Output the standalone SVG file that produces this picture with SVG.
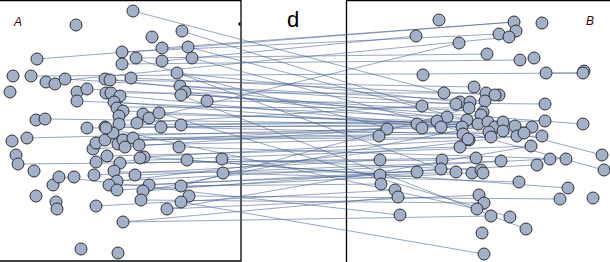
<svg xmlns="http://www.w3.org/2000/svg" width="610" height="262" viewBox="0 0 610 262">
<style>
circle{fill:#a2b0c8;stroke:#2c2f36;stroke-width:1}
#links line{stroke:#44618f;stroke-width:0.7;stroke-opacity:0.8}
.box{fill:none;stroke:#000;stroke-width:1.3}
.lab{font-family:"Liberation Sans",Arial,sans-serif;font-style:italic;font-size:12px;fill:#4a0000}
</style>
<rect width="610" height="262" fill="#fff"/>
<g id="frames">
<path class="box" d="M0,0.6H241V261H0"/>
<path class="box" d="M346.5,262V0.6H610"/>
<rect x="238.5" y="22.5" width="2" height="3" fill="#000"/>
</g>
<text x="293" y="27" font-family="Liberation Sans,Arial,sans-serif" font-size="22" text-anchor="middle" fill="#000">d</text>
<text class="lab" x="14" y="26">A</text>
<text class="lab" x="586" y="25">B</text>
<g id="links">
<line x1="37" y1="59" x2="514" y2="22"/>
<line x1="162" y1="48" x2="514" y2="22"/>
<line x1="149" y1="118" x2="459" y2="43"/>
<line x1="133" y1="11" x2="444" y2="93"/>
<line x1="182" y1="31" x2="422" y2="106"/>
<line x1="122" y1="64" x2="520" y2="60"/>
<line x1="31" y1="76" x2="583" y2="73"/>
<line x1="188" y1="47" x2="602" y2="155"/>
<line x1="192" y1="58" x2="604" y2="170"/>
<line x1="180" y1="95" x2="526" y2="229"/>
<line x1="159" y1="113" x2="510" y2="217"/>
<line x1="189" y1="196" x2="560" y2="199"/>
<line x1="141" y1="200" x2="484" y2="203"/>
<line x1="181" y1="202" x2="484" y2="254"/>
<line x1="18" y1="164" x2="442" y2="160"/>
<line x1="45" y1="119" x2="417" y2="124"/>
<line x1="27" y1="138" x2="462" y2="127"/>
<line x1="162" y1="61" x2="416" y2="36"/>
<line x1="122" y1="52" x2="499" y2="34"/>
<line x1="46" y1="82" x2="509" y2="37"/>
<line x1="87" y1="89" x2="483" y2="112"/>
<line x1="77" y1="101" x2="447" y2="117"/>
<line x1="106" y1="93" x2="486" y2="93"/>
<line x1="110" y1="80" x2="474" y2="87"/>
<line x1="131" y1="78" x2="499" y2="95"/>
<line x1="177" y1="73" x2="460" y2="102"/>
<line x1="185" y1="92" x2="495" y2="127"/>
<line x1="207" y1="101" x2="545" y2="104"/>
<line x1="114" y1="102" x2="441" y2="127"/>
<line x1="117" y1="107" x2="469" y2="108"/>
<line x1="123" y1="111" x2="532" y2="127"/>
<line x1="143" y1="114" x2="488" y2="122"/>
<line x1="137" y1="123" x2="422" y2="106"/>
<line x1="161" y1="127" x2="463" y2="134"/>
<line x1="181" y1="125" x2="545" y2="121"/>
<line x1="105" y1="127" x2="515" y2="126"/>
<line x1="119" y1="125" x2="437" y2="121"/>
<line x1="87" y1="128" x2="478" y2="124"/>
<line x1="96" y1="143" x2="503" y2="122"/>
<line x1="105" y1="140" x2="379" y2="136"/>
<line x1="113" y1="134" x2="489" y2="132"/>
<line x1="123" y1="140" x2="491" y2="137"/>
<line x1="133" y1="138" x2="524" y2="133"/>
<line x1="139" y1="145" x2="542" y2="136"/>
<line x1="144" y1="157" x2="469" y2="140"/>
<line x1="93" y1="149" x2="387" y2="129"/>
<line x1="107" y1="156" x2="460" y2="147"/>
<line x1="96" y1="162" x2="531" y2="146"/>
<line x1="120" y1="163" x2="476" y2="158"/>
<line x1="114" y1="172" x2="417" y2="172"/>
<line x1="94" y1="175" x2="380" y2="160"/>
<line x1="135" y1="175" x2="501" y2="161"/>
<line x1="117" y1="181" x2="550" y2="159"/>
<line x1="109" y1="186" x2="456" y2="172"/>
<line x1="117" y1="190" x2="472" y2="173"/>
<line x1="149" y1="185" x2="537" y2="165"/>
<line x1="143" y1="191" x2="441" y2="169"/>
<line x1="179" y1="147" x2="566" y2="159"/>
<line x1="187" y1="160" x2="380" y2="175"/>
<line x1="222" y1="159" x2="481" y2="170"/>
<line x1="223" y1="173" x2="519" y2="182"/>
<line x1="181" y1="186" x2="381" y2="184"/>
<line x1="96" y1="206" x2="395" y2="190"/>
<line x1="167" y1="209" x2="479" y2="195"/>
<line x1="123" y1="222" x2="491" y2="216"/>
<line x1="123" y1="222" x2="398" y2="197"/>
<line x1="181" y1="94" x2="583" y2="124"/>
<line x1="180" y1="86" x2="485" y2="101"/>
<line x1="65" y1="79" x2="456" y2="104"/>
<line x1="105" y1="79" x2="467" y2="120"/>
<line x1="120" y1="96" x2="503" y2="131"/>
<line x1="178" y1="73" x2="388" y2="128"/>
<line x1="136" y1="58" x2="487" y2="54"/>
<line x1="59" y1="177" x2="400" y2="215"/>
<line x1="106" y1="128" x2="477" y2="209"/>
<line x1="143" y1="157" x2="568" y2="188"/>
<line x1="546" y1="73" x2="583" y2="73"/>
<line x1="143" y1="191" x2="503" y2="122"/>
<line x1="117" y1="181" x2="517" y2="136"/>
<line x1="167" y1="209" x2="531" y2="146"/>
<line x1="136" y1="58" x2="441" y2="169"/>
<line x1="181" y1="186" x2="469" y2="108"/>
</g>
<g id="A-nodes">
<g id="a1"><circle cx="133" cy="11" r="6"/></g>
<g id="a2"><circle cx="76" cy="25" r="6"/></g>
<g id="a3"><circle cx="182" cy="31" r="6"/></g>
<g id="a4"><circle cx="152" cy="37" r="6"/></g>
<g id="a5"><circle cx="162" cy="48" r="6"/></g>
<g id="a6"><circle cx="188" cy="47" r="6"/></g>
<g id="a7"><circle cx="37" cy="59" r="6"/></g>
<g id="a8"><circle cx="122" cy="52" r="6"/></g>
<g id="a9"><circle cx="136" cy="58" r="6"/></g>
<g id="a10"><circle cx="192" cy="58" r="6"/></g>
<g id="a11"><circle cx="122" cy="64" r="6"/></g>
<g id="a12"><circle cx="162" cy="61" r="6"/></g>
<g id="a13"><circle cx="13" cy="76" r="6"/></g>
<g id="a14"><circle cx="31" cy="76" r="6"/></g>
<g id="a15"><circle cx="46" cy="82" r="6"/></g>
<g id="a16"><circle cx="55" cy="84" r="6"/></g>
<g id="a17"><circle cx="65" cy="79" r="6"/></g>
<g id="a18"><circle cx="10" cy="92" r="6"/></g>
<g id="a19"><circle cx="77" cy="92" r="6"/></g>
<g id="a20"><circle cx="87" cy="89" r="6"/></g>
<g id="a21"><circle cx="77" cy="101" r="6"/></g>
<g id="a22"><circle cx="105" cy="79" r="6"/></g>
<g id="a23"><circle cx="110" cy="80" r="6"/></g>
<g id="a24"><circle cx="131" cy="78" r="6"/></g>
<g id="a25"><circle cx="177" cy="73" r="6"/></g>
<g id="a26"><circle cx="180" cy="86" r="6"/></g>
<g id="a27"><circle cx="185" cy="92" r="6"/></g>
<g id="a28"><circle cx="181" cy="95" r="6"/></g>
<g id="a29"><circle cx="207" cy="101" r="6"/></g>
<g id="a30"><circle cx="106" cy="93" r="6"/></g>
<g id="a31"><circle cx="111" cy="93" r="6"/></g>
<g id="a32"><circle cx="120" cy="96" r="6"/></g>
<g id="a33"><circle cx="114" cy="102" r="6"/></g>
<g id="a34"><circle cx="117" cy="108" r="6"/></g>
<g id="a35"><circle cx="123" cy="111" r="6"/></g>
<g id="a36"><circle cx="119" cy="116" r="6"/></g>
<g id="a37"><circle cx="143" cy="114" r="6"/></g>
<g id="a38"><circle cx="149" cy="118" r="6"/></g>
<g id="a39"><circle cx="159" cy="113" r="6"/></g>
<g id="a40"><circle cx="36" cy="120" r="6"/></g>
<g id="a41"><circle cx="45" cy="119" r="6"/></g>
<g id="a42"><circle cx="87" cy="128" r="6"/></g>
<g id="a43"><circle cx="105" cy="127" r="6"/></g>
<g id="a44"><circle cx="119" cy="124" r="6"/></g>
<g id="a45"><circle cx="137" cy="123" r="6"/></g>
<g id="a46"><circle cx="161" cy="127" r="6"/></g>
<g id="a47"><circle cx="181" cy="125" r="6"/></g>
<g id="a48"><circle cx="12" cy="141" r="6"/></g>
<g id="a49"><circle cx="27" cy="138" r="6"/></g>
<g id="a50"><circle cx="16" cy="155" r="6"/></g>
<g id="a51"><circle cx="18" cy="164" r="6"/></g>
<g id="a52"><circle cx="34" cy="171" r="6"/></g>
<g id="a53"><circle cx="53" cy="185" r="6"/></g>
<g id="a54"><circle cx="59" cy="177" r="6"/></g>
<g id="a55"><circle cx="74" cy="177" r="6"/></g>
<g id="a56"><circle cx="36" cy="196" r="6"/></g>
<g id="a57"><circle cx="56" cy="202" r="6"/></g>
<g id="a58"><circle cx="57" cy="209" r="6"/></g>
<g id="a59"><circle cx="94" cy="175" r="6"/></g>
<g id="a60"><circle cx="96" cy="206" r="6"/></g>
<g id="a61"><circle cx="96" cy="162" r="6"/></g>
<g id="a62"><circle cx="93" cy="149" r="6"/></g>
<g id="a63"><circle cx="96" cy="143" r="6"/></g>
<g id="a64"><circle cx="105" cy="140" r="6"/></g>
<g id="a65"><circle cx="113" cy="133" r="6"/></g>
<g id="a66"><circle cx="107" cy="156" r="6"/></g>
<g id="a67"><circle cx="118" cy="144" r="6"/></g>
<g id="a68"><circle cx="123" cy="140" r="6"/></g>
<g id="a69"><circle cx="125" cy="147" r="6"/></g>
<g id="a70"><circle cx="133" cy="138" r="6"/></g>
<g id="a71"><circle cx="139" cy="145" r="6"/></g>
<g id="a72"><circle cx="144" cy="157" r="6"/></g>
<g id="a73"><circle cx="140" cy="158" r="6"/></g>
<g id="a74"><circle cx="120" cy="163" r="6"/></g>
<g id="a75"><circle cx="114" cy="171" r="6"/></g>
<g id="a76"><circle cx="135" cy="175" r="6"/></g>
<g id="a77"><circle cx="117" cy="181" r="6"/></g>
<g id="a78"><circle cx="109" cy="185" r="6"/></g>
<g id="a79"><circle cx="117" cy="190" r="6"/></g>
<g id="a80"><circle cx="149" cy="185" r="6"/></g>
<g id="a81"><circle cx="143" cy="191" r="6"/></g>
<g id="a82"><circle cx="141" cy="200" r="6"/></g>
<g id="a83"><circle cx="179" cy="147" r="6"/></g>
<g id="a84"><circle cx="187" cy="160" r="6"/></g>
<g id="a85"><circle cx="222" cy="159" r="6"/></g>
<g id="a86"><circle cx="223" cy="173" r="6"/></g>
<g id="a87"><circle cx="181" cy="186" r="6"/></g>
<g id="a88"><circle cx="189" cy="196" r="6"/></g>
<g id="a89"><circle cx="181" cy="202" r="6"/></g>
<g id="a90"><circle cx="167" cy="209" r="6"/></g>
<g id="a91"><circle cx="123" cy="222" r="6"/></g>
<g id="a92"><circle cx="81" cy="249" r="6"/></g>
<g id="a93"><circle cx="118" cy="253" r="6"/></g>
<g id="a94"><circle cx="106" cy="128" r="6"/></g>
</g>
<g id="B-nodes">
<g id="b1"><circle cx="439" cy="20" r="6"/></g>
<g id="b2"><circle cx="514" cy="22" r="6"/></g>
<g id="b3"><circle cx="542" cy="23" r="6"/></g>
<g id="b4"><circle cx="516" cy="31" r="6"/></g>
<g id="b5"><circle cx="499" cy="34" r="6"/></g>
<g id="b6"><circle cx="509" cy="37" r="6"/></g>
<g id="b7"><circle cx="416" cy="36" r="6"/></g>
<g id="b8"><circle cx="459" cy="43" r="6"/></g>
<g id="b9"><circle cx="487" cy="54" r="6"/></g>
<g id="b10"><circle cx="520" cy="60" r="6"/></g>
<g id="b11"><circle cx="534" cy="58" r="6"/></g>
<g id="b12"><circle cx="423" cy="75" r="6"/></g>
<g id="b13"><circle cx="546" cy="73" r="6"/></g>
<g id="b14"><circle cx="584" cy="71" r="6"/></g>
<g id="b15"><circle cx="583" cy="73" r="6"/></g>
<g id="b16"><circle cx="474" cy="87" r="6"/></g>
<g id="b17"><circle cx="444" cy="93" r="6"/></g>
<g id="b18"><circle cx="486" cy="93" r="6"/></g>
<g id="b19"><circle cx="499" cy="95" r="6"/></g>
<g id="b20"><circle cx="485" cy="101" r="6"/></g>
<g id="b21"><circle cx="422" cy="106" r="6"/></g>
<g id="b22"><circle cx="460" cy="102" r="6"/></g>
<g id="b23"><circle cx="470" cy="102" r="6"/></g>
<g id="b24"><circle cx="456" cy="104" r="6"/></g>
<g id="b25"><circle cx="469" cy="108" r="6"/></g>
<g id="b26"><circle cx="447" cy="117" r="6"/></g>
<g id="b27"><circle cx="483" cy="112" r="6"/></g>
<g id="b28"><circle cx="481" cy="115" r="6"/></g>
<g id="b29"><circle cx="467" cy="120" r="6"/></g>
<g id="b30"><circle cx="437" cy="121" r="6"/></g>
<g id="b31"><circle cx="417" cy="124" r="6"/></g>
<g id="b32"><circle cx="422" cy="128" r="6"/></g>
<g id="b33"><circle cx="441" cy="127" r="6"/></g>
<g id="b34"><circle cx="462" cy="127" r="6"/></g>
<g id="b35"><circle cx="478" cy="124" r="6"/></g>
<g id="b36"><circle cx="488" cy="122" r="6"/></g>
<g id="b37"><circle cx="495" cy="127" r="6"/></g>
<g id="b38"><circle cx="503" cy="122" r="6"/></g>
<g id="b39"><circle cx="515" cy="126" r="6"/></g>
<g id="b40"><circle cx="532" cy="127" r="6"/></g>
<g id="b41"><circle cx="545" cy="104" r="6"/></g>
<g id="b42"><circle cx="545" cy="121" r="6"/></g>
<g id="b43"><circle cx="583" cy="124" r="6"/></g>
<g id="b44"><circle cx="387" cy="129" r="6"/></g>
<g id="b45"><circle cx="379" cy="136" r="6"/></g>
<g id="b46"><circle cx="463" cy="134" r="6"/></g>
<g id="b47"><circle cx="469" cy="140" r="6"/></g>
<g id="b48"><circle cx="460" cy="147" r="6"/></g>
<g id="b49"><circle cx="489" cy="132" r="6"/></g>
<g id="b50"><circle cx="491" cy="137" r="6"/></g>
<g id="b51"><circle cx="503" cy="131" r="6"/></g>
<g id="b52"><circle cx="517" cy="136" r="6"/></g>
<g id="b53"><circle cx="524" cy="133" r="6"/></g>
<g id="b54"><circle cx="542" cy="136" r="6"/></g>
<g id="b55"><circle cx="531" cy="146" r="6"/></g>
<g id="b56"><circle cx="602" cy="155" r="6"/></g>
<g id="b57"><circle cx="604" cy="170" r="6"/></g>
<g id="b58"><circle cx="380" cy="160" r="6"/></g>
<g id="b59"><circle cx="442" cy="160" r="6"/></g>
<g id="b60"><circle cx="441" cy="169" r="6"/></g>
<g id="b61"><circle cx="417" cy="172" r="6"/></g>
<g id="b62"><circle cx="456" cy="172" r="6"/></g>
<g id="b63"><circle cx="472" cy="173" r="6"/></g>
<g id="b64"><circle cx="476" cy="158" r="6"/></g>
<g id="b65"><circle cx="481" cy="170" r="6"/></g>
<g id="b66"><circle cx="483" cy="173" r="6"/></g>
<g id="b67"><circle cx="501" cy="161" r="6"/></g>
<g id="b68"><circle cx="537" cy="165" r="6"/></g>
<g id="b69"><circle cx="550" cy="159" r="6"/></g>
<g id="b70"><circle cx="566" cy="159" r="6"/></g>
<g id="b71"><circle cx="380" cy="175" r="6"/></g>
<g id="b72"><circle cx="381" cy="184" r="6"/></g>
<g id="b73"><circle cx="519" cy="182" r="6"/></g>
<g id="b74"><circle cx="568" cy="188" r="6"/></g>
<g id="b75"><circle cx="395" cy="190" r="6"/></g>
<g id="b76"><circle cx="398" cy="197" r="6"/></g>
<g id="b77"><circle cx="479" cy="195" r="6"/></g>
<g id="b78"><circle cx="484" cy="203" r="6"/></g>
<g id="b79"><circle cx="477" cy="209" r="6"/></g>
<g id="b80"><circle cx="491" cy="216" r="6"/></g>
<g id="b81"><circle cx="510" cy="217" r="6"/></g>
<g id="b82"><circle cx="526" cy="229" r="6"/></g>
<g id="b83"><circle cx="560" cy="199" r="6"/></g>
<g id="b84"><circle cx="593" cy="198" r="6"/></g>
<g id="b85"><circle cx="400" cy="215" r="6"/></g>
<g id="b86"><circle cx="482" cy="233" r="6"/></g>
<g id="b87"><circle cx="484" cy="254" r="6"/></g>
<g id="b88"><circle cx="468" cy="139" r="6"/></g>
<g id="b89"><circle cx="495" cy="95" r="6"/></g>
</g>
</svg>
